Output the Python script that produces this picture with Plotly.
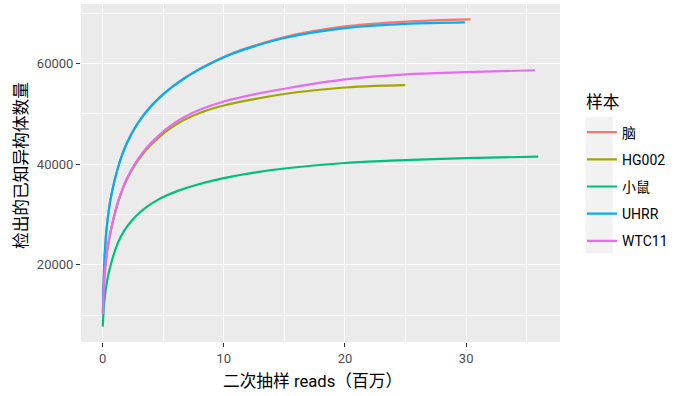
import plotly.graph_objects as go

# ---------------- data ----------------
names = ["脑", "HG002", "小鼠", "UHRR", "WTC11"]
colors = ["#F8766D", "#A3A500", "#00BF7D", "#00B0F6", "#E76BF3"]

brain_x = [0.02, 0.06, 0.14, 0.3, 0.6, 0.9, 1.17, 1.58, 2.0, 2.55, 3.2, 3.8, 4.4, 5.0, 5.8, 6.7, 7.4, 8.1, 10.55, 12.5, 15.0, 20.0, 25.0, 30.35]
brain_y = [10300, 15000, 20500, 26500, 32300, 35900, 38500, 41700, 44200, 46780, 49190, 51010, 52570, 53930, 55500, 57040, 58100, 59070, 61900, 63550, 65300, 67400, 68350, 68800]

hg002_x = [0.03, 0.08, 0.17, 0.4, 0.85, 1.3, 1.72, 2.0, 2.55, 3.2, 3.94, 4.6, 5.47, 6.7, 8.1, 10.0, 12.5, 15.0, 17.5, 20.0, 22.5, 24.98]
hg002_y = [10050, 13950, 18150, 23150, 28650, 32650, 35450, 36980, 39400, 41650, 43750, 45250, 46950, 48780, 50290, 51680, 52950, 53960, 54700, 55250, 55560, 55720]

mouse_x = [0.01, 0.05, 0.1, 0.19, 0.28, 0.56, 1.25, 1.8, 2.45, 3.0, 3.75, 4.3, 5.0, 6.2, 7.5, 10.0, 12.5, 15.0, 20.0, 25.0, 30.0, 35.95]
mouse_y = [7700, 9800, 11700, 13900, 15500, 19000, 24300, 26850, 28900, 30250, 31700, 32560, 33470, 34690, 35720, 37220, 38310, 39150, 40240, 40820, 41190, 41520]

uhrr_x = [0.02, 0.06, 0.14, 0.3, 0.6, 0.9, 1.17, 1.58, 2.0, 2.55, 3.2, 3.8, 4.4, 5.0, 5.8, 6.7, 7.4, 8.1, 10.55, 12.5, 15.0, 20.0, 25.0, 29.9]
uhrr_y = [10300, 15000, 20500, 26500, 32300, 35900, 38500, 41690, 44180, 46760, 49170, 50990, 52540, 53900, 55470, 57000, 58050, 59020, 61810, 63430, 65100, 67050, 67900, 68200]

wtc11_x = [0.03, 0.08, 0.17, 0.4, 0.85, 1.3, 1.72, 2.0, 2.55, 3.2, 3.94, 4.6, 5.47, 6.7, 8.1, 10.0, 12.5, 15.0, 20.0, 25.0, 30.0, 35.7]
wtc11_y = [10200, 14100, 18300, 23300, 28800, 32800, 35600, 37150, 39650, 41950, 44100, 45650, 47400, 49330, 50940, 52480, 53900, 55010, 56850, 57850, 58300, 58680]

xs = [brain_x, hg002_x, mouse_x, uhrr_x, wtc11_x]
ys = [brain_y, hg002_y, mouse_y, uhrr_y, wtc11_y]

x_ticks = [0, 10, 20, 30]
y_ticks = [20000, 40000, 60000]

x_title = "二次抽样 reads（百万）"
y_title = "检出的已知异构体数量"
legend_title = "样本"

# ---------------- figure ----------------
FONT = "Roboto, 'Noto Sans CJK SC', sans-serif"
W, H = 683, 396
ML, MR, MT, MB = 81, 123, 4, 54
pw = W - ML - MR
ph = H - MT - MB


def px_to_paper_x(px):
    return (px - ML) / pw


def px_to_paper_y(py):
    return (H - MB - py) / ph


fig = go.Figure()
for n, c, x, y in zip(names, colors, xs, ys):
    fig.add_trace(go.Scatter(
        x=x, y=y, mode="lines", name=n, legendgroup=n,
        line=dict(color=c, width=2.2, shape="spline", smoothing=1.0),
        hoverinfo="skip",
    ))

allx = [v for s in xs for v in s]
ally = [v for s in ys for v in s]
xmin, xmax = min(allx), max(allx)
ymin, ymax = min(ally), max(ally)
xpad = 0.05 * (xmax - xmin)
ypad = 0.05 * (ymax - ymin)

axis_common = dict(
    showgrid=True, gridcolor="white", gridwidth=1.1,
    zeroline=False, showline=False,
    ticks="outside", ticklen=4, tickwidth=1, tickcolor="#333333",
    tickfont=dict(family=FONT, size=13, color="#4D4D4D"),
)

fig.update_xaxes(
    range=[xmin - xpad, xmax + xpad], tickvals=x_ticks,
    ticktext=[str(v) for v in x_ticks],
    minor=dict(dtick=5, tick0=0, showgrid=True, gridcolor="white", gridwidth=0.5, ticks=""),
    **axis_common,
)
fig.update_yaxes(
    range=[ymin - ypad, ymax + ypad], tickvals=y_ticks,
    ticktext=[str(v) for v in y_ticks],
    minor=dict(dtick=10000, tick0=0, showgrid=True, gridcolor="white", gridwidth=0.5, ticks=""),
    **axis_common,
)

# axis titles and legend title as annotations (placed like the ggplot original)
title_font = dict(family=FONT, size=16.7, color="black")
fig.add_annotation(text=x_title, xref="paper", yref="paper",
                   x=px_to_paper_x(312), y=px_to_paper_y(381.5),
                   xanchor="center", yanchor="middle", showarrow=False, font=title_font)
fig.add_annotation(text=y_title, xref="paper", yref="paper",
                   x=px_to_paper_x(21), y=px_to_paper_y(166),
                   xanchor="center", yanchor="middle", textangle=-90,
                   showarrow=False, font=title_font)
fig.add_annotation(text=legend_title, xref="paper", yref="paper",
                   x=px_to_paper_x(584), y=px_to_paper_y(102),
                   xanchor="left", yanchor="middle", showarrow=False, font=title_font)

# legend key background (ggplot grey95 keys)
fig.add_shape(type="rect", xref="paper", yref="paper",
              x0=px_to_paper_x(585.7), x1=px_to_paper_x(612.7),
              y0=px_to_paper_y(253.3), y1=px_to_paper_y(116.7),
              fillcolor="#F2F2F2", line=dict(width=0), layer="below")

fig.update_layout(
    width=W, height=H,
    margin=dict(l=ML, r=MR, t=MT, b=MB),
    paper_bgcolor="white", plot_bgcolor="#EBEBEB",
    font=dict(family=FONT, color="black"),
    showlegend=True,
    legend=dict(
        font=dict(family=FONT, size=14, color="black"),
        x=px_to_paper_x(582), xanchor="left",
        y=px_to_paper_y(116.5), yanchor="top",
        bgcolor="rgba(0,0,0,0)", borderwidth=0,
        tracegroupgap=6, traceorder="grouped",
        itemwidth=30,
    ),
)

fig.write_html("out.html")
